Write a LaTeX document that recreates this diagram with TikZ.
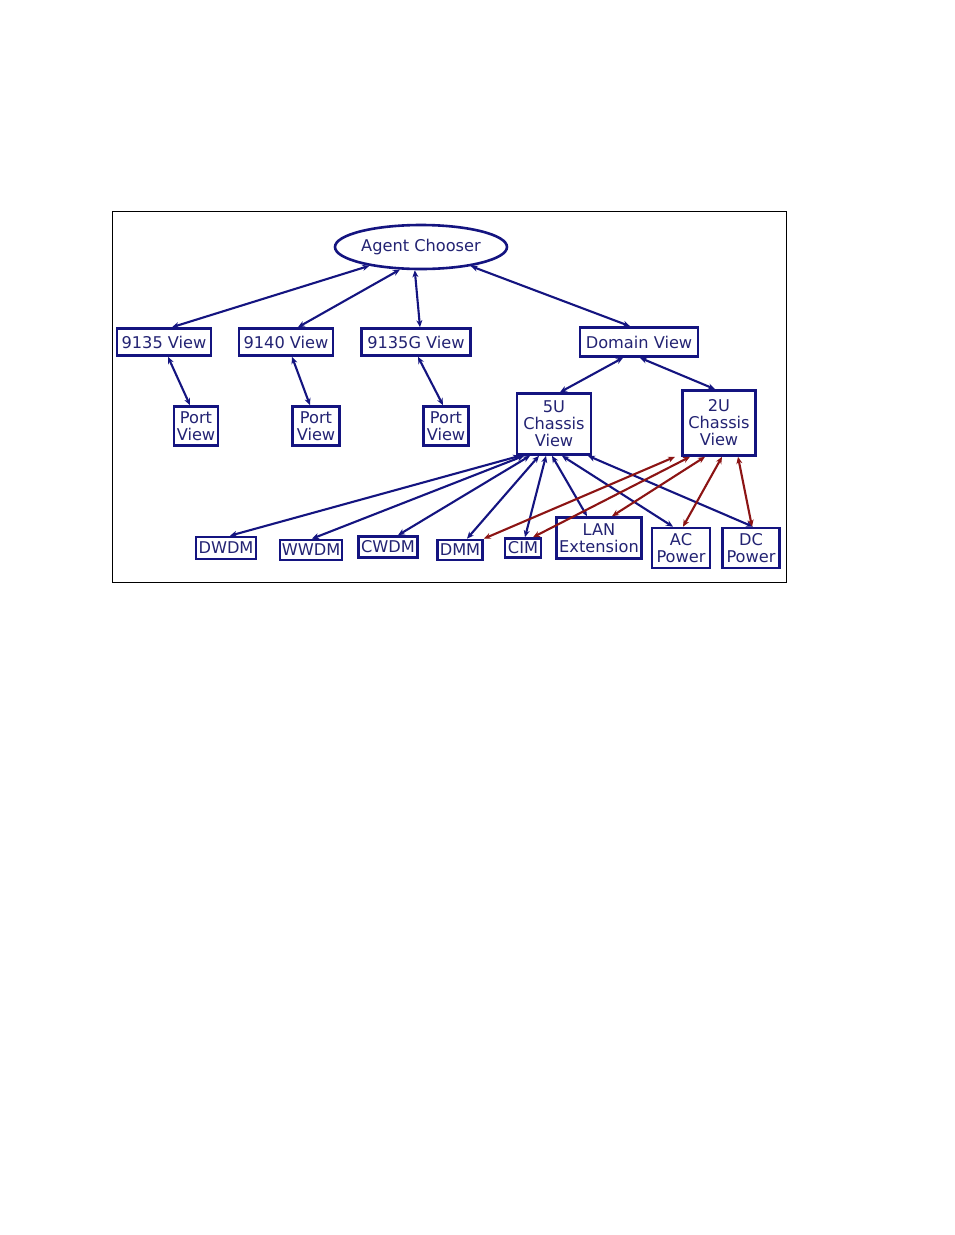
\documentclass[tikz,border=0pt]{standalone}
\usepackage{fontspec}
\setmainfont{DejaVu Sans}
\usetikzlibrary{arrows.meta,shapes.geometric}
\definecolor{navy}{RGB}{20,20,128}
\definecolor{navytext}{RGB}{35,35,115}
\definecolor{dred}{RGB}{140,20,20}
\tikzset{
  box/.style={draw=navy, line width=2.6pt, rectangle, inner sep=0.5pt, text=navytext,
    font=\fontsize{16.2}{17}\selectfont, align=center},
  oval/.style={box, ellipse},
  link/.style={draw=navy, line width=2.1pt, {Stealth[length=7pt,width=6pt]}-{Stealth[length=7pt,width=6pt]}},
  rlink/.style={link, draw=dred},
  frame/.style={draw=black, line width=1pt}
}
\begin{document}
\begin{tikzpicture}[x=1pt,y=-1pt]
\useasboundingbox (0,0) rectangle (954,1235);
\fill[white] (0,0) rectangle (954,1235);
\draw[frame] (112,211) rectangle (786,582);

\node[oval, minimum width=172pt, minimum height=44pt] (agent) at (421,247) {Agent Chooser};
\node[box, minimum width=94pt, minimum height=27pt] (v9135) at (164,342) {9135 View};
\node[box, minimum width=94pt, minimum height=27pt] (v9140) at (286,342) {9140 View};
\node[box, minimum width=109pt, minimum height=27pt] (v9135g) at (416,342) {9135G View};
\node[box, minimum width=118pt, minimum height=29pt] (domain) at (639,342) {Domain View};
\node[box, minimum width=44pt, minimum height=39pt] (p1) at (196,426) {Port\\View};
\node[box, minimum width=47pt, minimum height=39pt] (p2) at (316,426) {Port\\View};
\node[box, minimum width=45pt, minimum height=39pt] (p3) at (446,426) {Port\\View};
\node[box, minimum width=74pt, minimum height=61pt] (u5) at (554,424) {5U\\Chassis\\View};
\node[box, minimum width=73pt, minimum height=65pt] (u2) at (719,423) {2U\\Chassis\\View};
\node[box, minimum width=60pt, minimum height=22pt] (dwdm) at (226,548) {DWDM};
\node[box, minimum width=62pt, minimum height=20pt] (wwdm) at (311,550) {WWDM};
\node[box, minimum width=59pt, minimum height=21pt] (cwdm) at (388,547) {CWDM};
\node[box, minimum width=45pt, minimum height=20pt] (dmm) at (460,550) {DMM};
\node[box, minimum width=36pt, minimum height=19pt] (cim) at (523,548) {CIM};
\node[box, minimum width=85pt, minimum height=41pt] (lan) at (599,538) {LAN\\Extension};
\node[box, minimum width=58pt, minimum height=40pt] (ac) at (681,548) {AC\\Power};
\node[box, minimum width=57pt, minimum height=40pt] (dc) at (751,548) {DC\\Power};

% top level
\draw[link] (agent.200) -- ([xshift=8pt]v9135.north);
\draw[link] (agent.227) -- ([xshift=12pt]v9140.north);
\draw[link] (agent.255) -- ([xshift=4pt]v9135g.north);
\draw[link] (agent.339) -- ([xshift=-9pt]domain.north);
\draw[link] ([xshift=4pt]v9135.south) -- ([xshift=-6pt]p1.north);
\draw[link] ([xshift=6pt]v9140.south) -- ([xshift=-6pt]p2.north);
\draw[link] ([xshift=2pt]v9135g.south) -- ([xshift=-3pt]p3.north);
\draw[link] ([xshift=-16pt]domain.south) -- ([xshift=6pt]u5.north);
\draw[link] ([xshift=1pt]domain.south) -- ([xshift=-4pt]u2.north);

% 5U fan
\draw[link] ([xshift=-34pt]u5.south) -- ([xshift=4pt]dwdm.north);
\draw[link] ([xshift=-30pt]u5.south) -- ([xshift=1pt]wwdm.north);
\draw[link] ([xshift=-24pt]u5.south) -- ([xshift=10pt]cwdm.north);
\draw[link] ([xshift=-15pt]u5.south) -- ([xshift=7pt]dmm.north);
\draw[link] ([xshift=-8pt]u5.south) -- ([xshift=2pt]cim.north);
\draw[link] ([xshift=-2pt]u5.south) -- ([xshift=-12pt]lan.north);
\draw[link] ([xshift=8pt]u5.south) -- ([xshift=-8pt]ac.north);
\draw[link] ([xshift=34pt]u5.south) -- ([xshift=2pt]dc.north);

% 2U fan
\draw[rlink] ([xshift=-44pt]u2.south) -- (dmm.north east);
\draw[rlink] ([xshift=-29pt]u2.south) -- ([xshift=10pt]cim.north);
\draw[rlink] ([xshift=-14pt]u2.south) -- ([xshift=13pt]lan.north);
\draw[rlink] ([xshift=3pt]u2.south) -- ([xshift=2pt]ac.north);
\draw[rlink] ([xshift=19pt]u2.south) -- ([xshift=1pt]dc.north);
\end{tikzpicture}
\end{document}
